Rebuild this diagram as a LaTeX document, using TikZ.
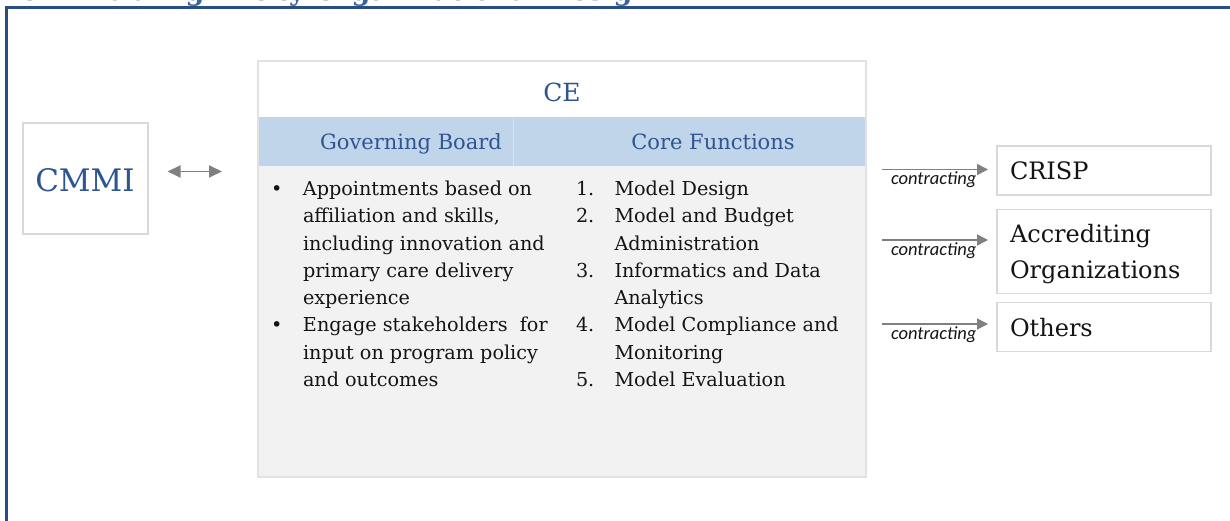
\documentclass[tikz,border=0pt]{standalone}
\usepackage{fontspec}
\usepackage{graphicx}
\setmainfont{DejaVu Serif}
\newfontfamily\labelfont{Carlito}
\usetikzlibrary{arrows.meta}

\definecolor{framec}{RGB}{40,78,132}
\definecolor{titlec}{RGB}{60,100,160}
\definecolor{headc}{RGB}{47,84,146}
\definecolor{boxline}{RGB}{217,217,217}
\definecolor{tableline}{RGB}{226,226,226}
\definecolor{hdfill}{RGB}{192,213,234}
\definecolor{bodyfill}{RGB}{242,242,242}
\definecolor{arrowc}{RGB}{128,128,128}
\definecolor{textc}{RGB}{20,20,20}

\newcommand\fsz[2]{\fontsize{#1}{#2}\selectfont}

\begin{document}
\begin{tikzpicture}[x=1pt,y=-1pt,
  every node/.style={inner sep=0pt, outer sep=0pt},
  plainbox/.style={draw=boxline, line width=2pt, fill=white, anchor=north west},
  band/.style={anchor=north west, minimum width=608pt},
  headtext/.style={anchor=base, text=headc},
  outtext/.style={anchor=base west, font=\fsz{24}{35}, text=textc},
  coltext/.style={anchor=base west, font=\fsz{19.2}{27.3}, text=textc},
  contract/.style={draw=arrowc, line width=1.5pt, -{Triangle[length=11pt,width=11pt]}, shorten >=9pt},
  contractlabel/.style={anchor=base, yshift=-15pt, font=\labelfont\itshape\fsz{18.5}{20}, text=textc},
  link/.style={draw=arrowc, line width=1.8pt, {Triangle[length=13pt,width=12pt]}-{Triangle[length=13pt,width=12pt]}},
]
\useasboundingbox (0,0) rectangle (1230,521);

% page frame, running off the right and bottom edges
\draw[framec, line width=3pt] (1240,8) -- (6.5,8) -- (6.5,530);

% heading, cut by the top edge
\node[anchor=base west, text=titlec, font=\bfseries\fsz{26}{30}] (title) at (18,0.5)
  {\resizebox{634pt}{!}{CE Enabling Entity Organizational Design}};

% CMMI
\node[plainbox, minimum width=125pt, minimum height=111pt] (cmmi) at (22.5,123) {};
\node[headtext, font=\fsz{31}{36}] (cmmit) at (85,191.5) {CMMI};

% CE table
\node[band, fill=white, minimum height=56pt] (cetop) at (258,61) {};
\node[band, fill=hdfill, minimum height=49.5pt] (cehead) at (258,117) {};
\node[band, fill=bodyfill, minimum height=310.5pt] (cebody) at (258,166.5) {};
\draw[tableline, line width=1.5pt] (cetop.north west) rectangle (cebody.south east);
\draw[white, opacity=0.35, line width=0.8pt] (cehead.north west -| 513,0) -- (cehead.south west -| 513,0);

\node[headtext, font=\fsz{25}{30}] (cetitle) at (562,101.5) {CE};
\node[headtext, font=\fsz{21}{25}] (gbhead) at (411,150) {Governing Board};
\node[headtext, font=\fsz{21}{25}] (cfhead) at (713,150) {Core Functions};

\node[coltext] (gblist) at (271,195.5) {\begin{tabular}[t]{@{}p{32pt}@{}l@{}}
\textbullet & Appointments based on\\
 & affiliation and skills,\\
 & including innovation and\\
 & primary care delivery\\
 & experience\\
\textbullet & Engage stakeholders~ for\\
 & input on program policy\\
 & and outcomes
\end{tabular}};

\node[coltext] (cflist) at (576,195.5) {\begin{tabular}[t]{@{}p{38.5pt}@{}l@{}}
1. & Model Design\\
2. & Model and Budget\\
 & Administration\\
3. & Informatics and Data\\
 & Analytics\\
4. & Model Compliance and\\
 & Monitoring\\
5. & Model Evaluation
\end{tabular}};

% link between CMMI and CE
\draw[link, shorten <=20pt, shorten >=36pt] ([yshift=7pt]cmmi.east) -- ([yshift=7pt]cmmi.east -| cebody.west);

% contracted parties
\node[plainbox, line width=1.5pt, minimum width=214pt, minimum height=49pt] (crisp) at (997,146) {};
\node[outtext] (crispt) at (1010,180) {CRISP};
\node[plainbox, line width=1.5pt, minimum width=214pt, minimum height=84pt] (accr) at (997,209.5) {};
\node[outtext] (accrt1) at (1010,243) {Accrediting};
\node[outtext] (accrt2) at (1010,278) {Organizations};
\node[plainbox, line width=1.5pt, minimum width=214pt, minimum height=49pt] (others) at (997,302.5) {};
\node[outtext] (otherst) at (1010,336.5) {Others};

\coordinate (k1) at (882,169.5);
\coordinate (k2) at (882,240);
\coordinate (k3) at (882,324);
\draw[contract] (k1) -- (k1 -| crisp.west) node[contractlabel, pos=0.45] (l1) {contracting};
\draw[contract] (k2) -- (k2 -| accr.west) node[contractlabel, pos=0.45] (l2) {contracting};
\draw[contract] (k3) -- (k3 -| others.west) node[contractlabel, pos=0.45] (l3) {contracting};
\end{tikzpicture}
\end{document}
